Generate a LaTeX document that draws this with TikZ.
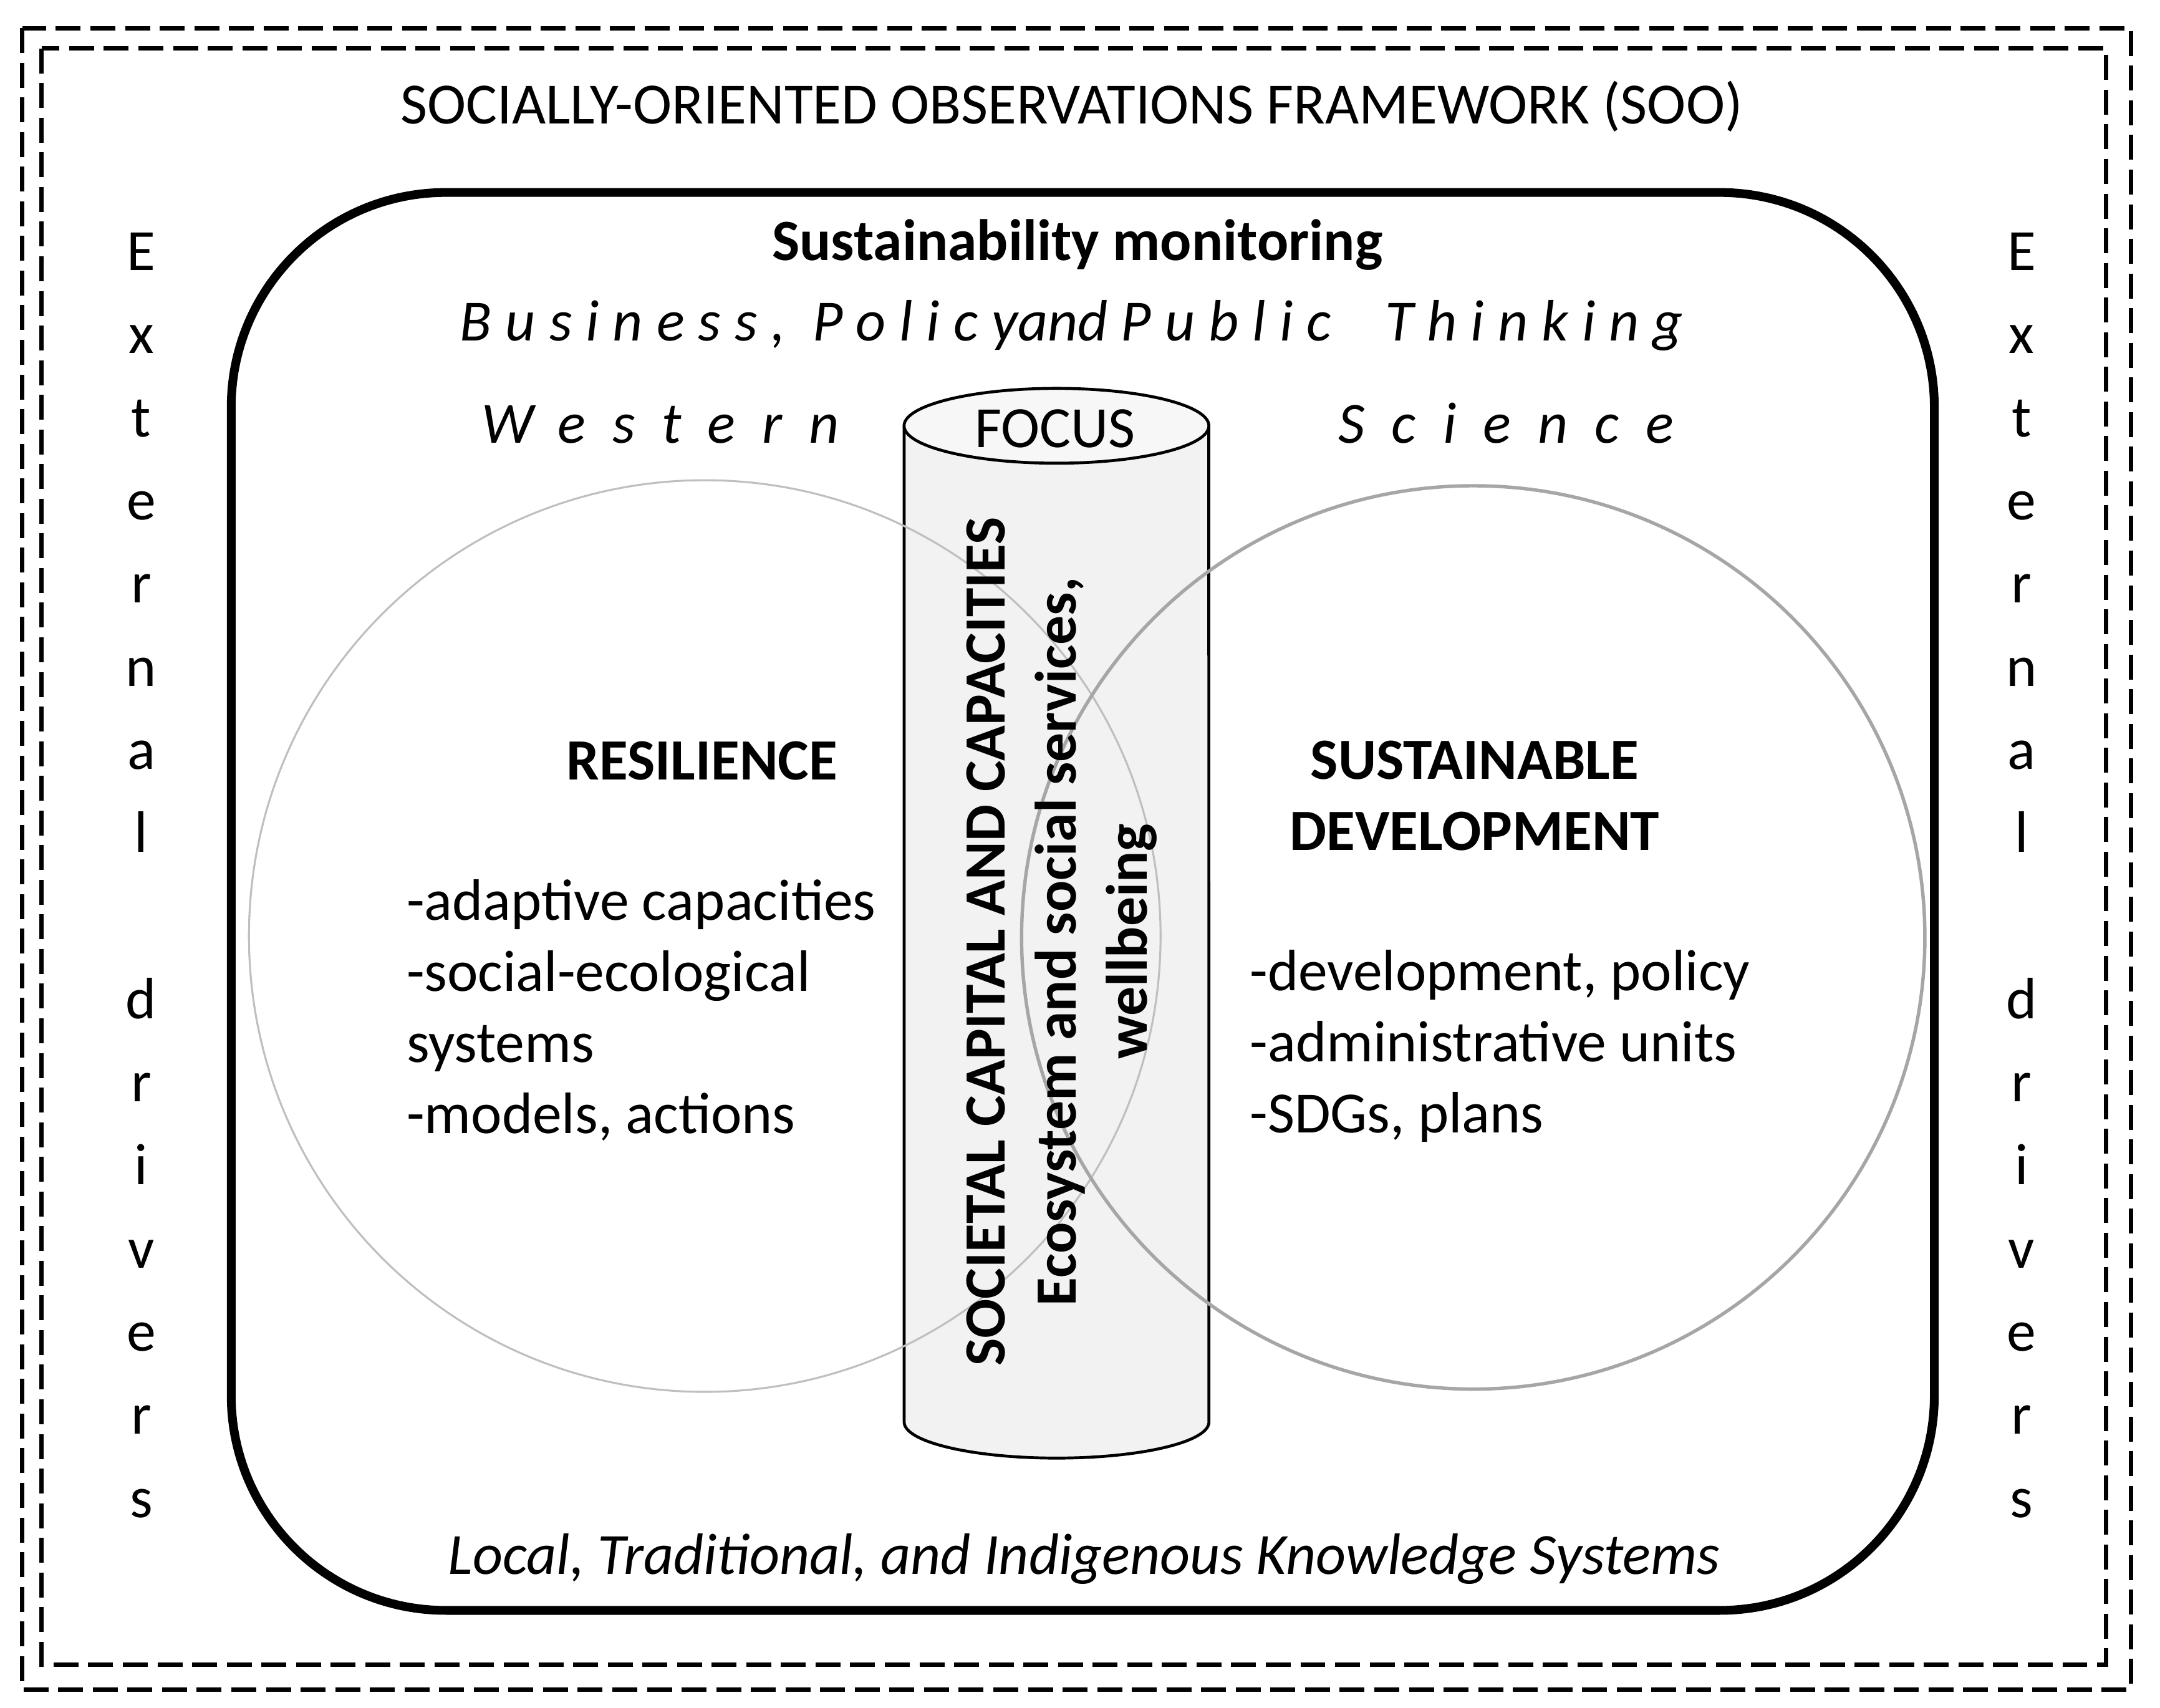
\documentclass[tikz,border=0pt]{standalone}
\usepackage{fontspec}
\setmainfont{Carlito}
\def\basefont{\fontsize{12}{14.6}\selectfont}
\newcommand{\spaced}[2]{{\addfontfeature{LetterSpace=#1}#2}}

\begin{document}
\begin{tikzpicture}[x=0.01cm, y=-0.01cm,
		plaintext/.style={font=\basefont, inner sep=0pt},
		boldtext/.style={font=\basefont\bfseries, inner sep=0pt},
		italictext/.style={font=\basefont\itshape, inner sep=0pt},
		lettercol/.style={font=\fontsize{12}{17.07}\selectfont, inner sep=0pt, align=center, anchor=north},
		dashbox/.style={draw=black, line width=0.9pt, dash pattern=on 0.18cm off 0.07cm},
		framebox/.style={draw=black, line width=1.8pt, rounded corners=1.55cm},
		cylbody/.style={fill=black!5, draw=black, line width=0.6pt},
		cyltop/.style={fill=black!3, draw=black, line width=0.6pt}]
		\useasboundingbox (0,0) rectangle (1560,1233.5);
		% frames
		\draw[dashbox] (16,20.3) rectangle (1539,1220);
		\draw[dashbox] (30,35) rectangle (1521,1202);
		\draw[framebox] (167,139) rectangle (1397,1163);
		% focus cylinder
		\def\cylX{763}
		\def\cylL{653}
		\def\cylR{873}
		\filldraw[cylbody] (\cylL,307.5) -- (\cylL,1027)
			arc[start angle=180, end angle=360, x radius=1.1cm, y radius=0.26cm] -- (\cylR,307.5);
		\draw[cyltop] (\cylX,307.5) ellipse[x radius=1.1cm, y radius=0.27cm];
		% the two circles
		\draw[draw=black!25, line width=0.4pt] (509,676) circle[radius=3.29cm];
		\draw[draw=black!35, line width=0.7pt] (1064,677) circle[radius=3.26cm];
		% texts
		\node[plaintext, anchor=base] (title) at (774,89.4) {SOCIALLY-ORIENTED OBSERVATIONS FRAMEWORK (SOO)};
		\node[boldtext, anchor=base] (monitor) at (778,188) {Sustainability monitoring};
		\node[italictext, anchor=base] (thinking) at (774,246) {\spaced{23.5}{Business, Policy}and \spaced{23.5}{Public\ \ Thinking}};
		\node[italictext, anchor=base west] (western) at (347,320) {\spaced{46}{Western}};
		\node[italictext, anchor=base west] (science) at (966,320) {\spaced{46}{Science}};
		\node[plaintext, anchor=base] (focus) at (762,323) {FOCUS};
		\node[boldtext, anchor=base] (resilience) at (507,563) {RESILIENCE};
		% multi-line nodes sit on their last baseline
		\node[plaintext, align=left, anchor=base west] (leftlist) at (293,818.5) {-adaptive capacities\\-social-ecological\\systems\\-models, actions};
		\node[boldtext, align=center, anchor=base] (sustdev) at (1065,614) {SUSTAINABLE\\DEVELOPMENT};
		\node[plaintext, align=left, anchor=base west] (rightlist) at (902,818) {-development, policy\\-administrative units\\-SDGs, plans};
		\node[boldtext, align=center, rotate=90] (capital) at (767,680) {SOCIETAL CAPITAL AND CAPACITIES\\Ecosystem and social services,\\wellbeing};
		\node[italictext, anchor=base] (local) at (783,1137) {Local, Traditional, and Indigenous Knowledge Systems};
		% external drivers
		\node[lettercol] (driversL) at (102,167.5) {E\\x\\t\\e\\r\\n\\a\\l\\ \\d\\r\\i\\v\\e\\r\\s};
		\node[lettercol] (driversR) at (1460,167.5) {E\\x\\t\\e\\r\\n\\a\\l\\ \\d\\r\\i\\v\\e\\r\\s};
	\end{tikzpicture}
\end{document}
